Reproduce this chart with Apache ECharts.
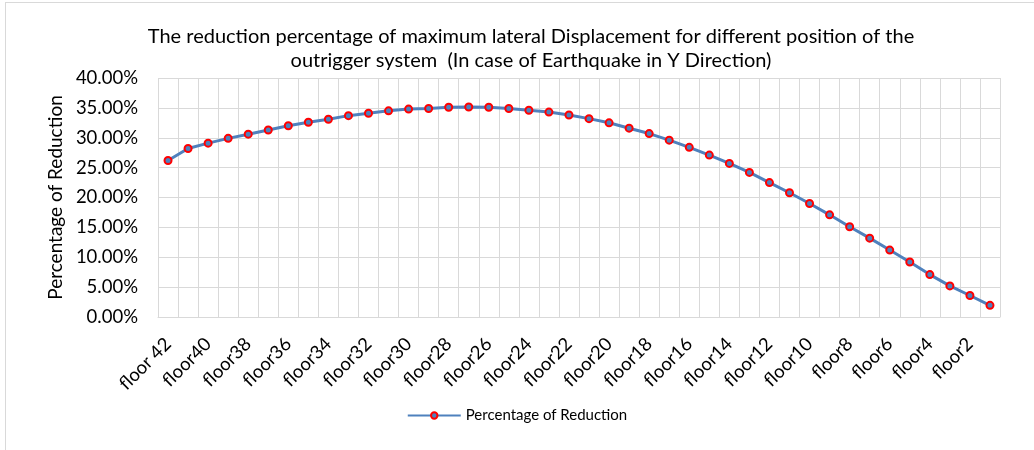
<!DOCTYPE html>
<html>
<head>
<meta charset="utf-8">
<script src="https://cdn.jsdelivr.net/npm/echarts@6/dist/echarts.min.js"></script>
<style>
  html, body { margin: 0; padding: 0; background: #fff; }
  #chart { width: 1034px; height: 450px; }
  #frame { position: absolute; left: 5px; top: 2px; width: 1040px; height: 460px;
           border-left: 1px solid #d9d9d9; border-top: 1px solid #d9d9d9; pointer-events: none; }
</style>
</head>
<body>
<div id="chart"></div>
<div id="frame"></div>
<script>
// floors from top (42) down to 1
const floors = [
  "floor 42", "floor41", "floor40", "floor39", "floor38", "floor37", "floor36",
  "floor35", "floor34", "floor33", "floor32", "floor31", "floor30", "floor29",
  "floor28", "floor27", "floor26", "floor25", "floor24", "floor23", "floor22",
  "floor21", "floor20", "floor19", "floor18", "floor17", "floor16", "floor15",
  "floor14", "floor13", "floor12", "floor11", "floor10", "floor9", "floor8",
  "floor7", "floor6", "floor5", "floor4", "floor3", "floor2", "floor1"
];
// reduction, in fraction
const reduction = [
  0.262, 0.282, 0.291, 0.299, 0.306, 0.313, 0.320,
  0.326, 0.331, 0.337, 0.341, 0.345, 0.348, 0.349,
  0.351, 0.3515, 0.351, 0.349, 0.346, 0.343, 0.338,
  0.332, 0.325, 0.316, 0.307, 0.296, 0.284, 0.271,
  0.257, 0.242, 0.225, 0.208, 0.190, 0.171, 0.151,
  0.132, 0.112, 0.092, 0.071, 0.052, 0.036, 0.0195
];
const seriesName = "Percentage of Reduction";
const chartTitle = "The reduction percentage of maximum lateral Displacement for different position of the\noutrigger system  (In case of Earthquake in Y Direction)";

const font = "Lato, 'Open Sans', sans-serif";
const chart = echarts.init(document.getElementById("chart"));
chart.setOption({
  animation: false,
  textStyle: { fontFamily: font },
  title: {
    text: chartTitle,
    left: 526,
    top: 20,
    textAlign: "center",
    textStyle: { fontFamily: font, fontSize: 20, fontWeight: "normal", color: "#000", lineHeight: 24 }
  },
  legend: {
    bottom: 22,
    left: "center",
    itemWidth: 53,
    itemHeight: 8,
    itemGap: 6,
    textStyle: { fontFamily: font, fontSize: 15, color: "#000" },
    data: [seriesName]
  },
  grid: { left: 158, right: 34, top: 78, bottom: 133 },
  xAxis: {
    type: "category",
    data: floors,
    boundaryGap: true,
    axisLine: { lineStyle: { color: "#d9d9d9", width: 1 } },
    axisTick: { show: false },
    axisLabel: { interval: 1, rotate: 45, fontSize: 18.5, color: "#000", fontFamily: font, margin: 24 },
    splitLine: { show: true, interval: 0, lineStyle: { color: "#d9d9d9", width: 1 } }
  },
  yAxis: {
    type: "value",
    min: 0,
    max: 0.4,
    interval: 0.05,
    name: seriesName,
    nameLocation: "middle",
    nameGap: 93,
    nameTextStyle: { fontFamily: font, fontSize: 19, color: "#000" },
    axisLine: { show: false },
    axisTick: { show: false },
    axisLabel: {
      fontSize: 18.5, color: "#000", fontFamily: font, margin: 20,
      formatter: v => (v * 100).toFixed(2) + "%"
    },
    splitLine: { lineStyle: { color: "#d9d9d9", width: 1 } }
  },
  series: [{
    name: seriesName,
    type: "line",
    data: reduction,
    symbol: "circle",
    symbolSize: 7,
    lineStyle: { color: "#4f81bd", width: 3 },
    itemStyle: { color: "#4f81bd", borderColor: "#ff0000", borderWidth: 2 }
  }]
});
</script>
</body>
</html>
